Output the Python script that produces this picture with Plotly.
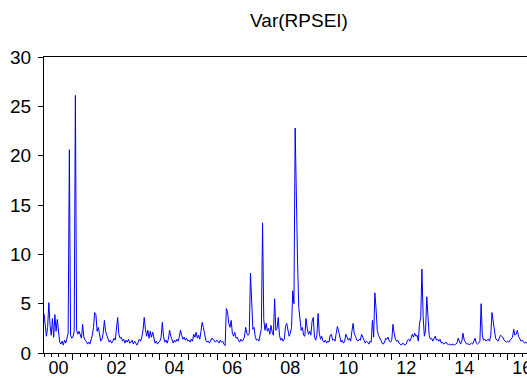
import plotly.graph_objects as go

# Semi-monthly readings of Var(RPSEI), 24 per year (2016 partial, cut at window edge)
v2000 = [4.0, 2.4, 1.7, 2.6, 5.1, 2.8, 1.8, 3.5, 1.6, 3.9, 2.2, 3.4, 1.8, 1.1, 0.9, 1.2, 0.8, 1.3, 1.0, 1.5, 2.0, 20.6, 1.8, 1.5]
v2001 = [1.6, 2.2, 26.1, 2.3, 1.9, 2.2, 1.7, 1.5, 2.9, 1.6, 1.3, 1.2, 0.9, 1.1, 0.9, 1.3, 1.8, 2.6, 4.1, 3.9, 2.2, 2.6, 1.7, 1.2]
v2002 = [1.4, 2.0, 3.3, 2.2, 1.8, 1.4, 1.1, 1.3, 1.0, 1.2, 1.5, 1.3, 2.5, 3.6, 1.9, 1.5, 1.6, 1.2, 1.4, 1.0, 1.3, 1.1, 1.4, 1.0]
v2003 = [1.1, 1.3, 0.9, 1.2, 1.0, 0.8, 1.1, 1.4, 1.2, 1.6, 2.3, 3.6, 2.4, 1.7, 2.3, 1.5, 2.2, 1.6, 2.1, 1.4, 1.0, 1.2, 0.9, 1.1]
v2004 = [1.2, 1.6, 3.1, 1.7, 1.1, 1.3, 1.0, 1.4, 2.3, 1.7, 1.2, 1.0, 1.3, 1.1, 1.4, 1.2, 1.6, 2.3, 1.8, 1.4, 1.6, 1.3, 1.5, 1.2]
v2005 = [1.3, 1.1, 1.4, 1.2, 1.9, 1.6, 2.1, 1.5, 1.8, 1.4, 2.2, 3.1, 2.6, 1.9, 1.3, 1.1, 1.2, 1.0, 1.3, 1.5, 1.4, 1.2, 1.1, 1.3]
v2006 = [1.2, 1.0, 1.3, 1.1, 1.2, 0.9, 0.75, 4.5, 4.2, 3.0, 2.6, 3.3, 2.0, 1.7, 2.1, 1.5, 1.6, 1.3, 1.1, 1.4, 1.2, 1.3, 1.6, 2.6]
v2007 = [2.0, 1.8, 2.0, 8.1, 4.6, 2.4, 2.6, 1.6, 1.3, 1.4, 1.2, 1.7, 2.5, 13.2, 3.4, 2.3, 3.0, 2.2, 2.5, 1.9, 2.8, 2.1, 1.8, 5.5]
v2008 = [2.3, 2.5, 3.6, 1.8, 1.3, 1.5, 1.2, 1.4, 2.7, 3.0, 2.2, 1.7, 2.0, 2.6, 6.3, 5.0, 22.8, 13.0, 9.2, 4.6, 3.0, 2.3, 2.6, 1.8]
v2009 = [1.7, 3.5, 2.5, 1.9, 2.2, 1.8, 3.2, 3.6, 1.6, 1.3, 1.8, 4.0, 2.0, 1.4, 1.7, 1.2, 1.1, 1.3, 1.0, 1.2, 1.1, 1.8, 1.9, 1.3]
v2010 = [1.4, 1.2, 2.0, 2.7, 2.2, 1.6, 1.1, 1.3, 1.0, 1.2, 1.9, 1.6, 1.3, 1.5, 1.2, 2.2, 3.0, 1.9, 1.7, 1.3, 1.2, 1.4, 1.3, 1.9]
v2011 = [1.6, 1.2, 1.0, 1.2, 1.1, 0.9, 1.2, 1.1, 3.3, 1.6, 6.1, 4.5, 2.3, 1.8, 1.6, 1.3, 1.0, 0.9, 1.1, 1.5, 1.4, 1.6, 1.2, 1.1]
v2012 = [1.3, 2.9, 2.0, 1.4, 1.2, 1.3, 1.0, 0.9, 0.8, 1.0, 0.9, 0.8, 0.9, 1.3, 1.4, 1.2, 1.5, 1.9, 1.6, 2.0, 1.7, 1.8, 1.2, 3.0]
v2013 = [3.6, 8.5, 3.7, 1.7, 2.3, 5.7, 3.7, 1.8, 1.4, 1.5, 1.2, 1.4, 1.7, 1.3, 1.4, 1.2, 1.4, 1.0, 1.1, 0.9, 1.0, 1.1, 0.9, 0.85]
v2014 = [0.9, 0.8, 0.9, 0.85, 0.8, 0.9, 1.0, 1.5, 1.1, 0.9, 1.2, 2.0, 1.3, 1.0, 0.9, 0.95, 0.85, 0.9, 1.0, 0.9, 1.2, 1.5, 1.0, 0.9]
v2015 = [1.0, 1.2, 5.0, 1.8, 1.3, 1.4, 1.2, 1.3, 1.4, 1.2, 1.8, 4.1, 3.3, 2.4, 1.5, 1.3, 1.2, 1.5, 1.8, 1.7, 1.6, 1.3, 1.2, 1.1]
v2016 = [1.2, 1.1, 1.3, 1.5, 1.6, 2.4, 1.8, 1.9, 2.3, 1.7, 1.4, 1.2, 1.3, 1.1, 1.0, 1.1, 1.0]

yearly = {
    2000: v2000, 2001: v2001, 2002: v2002, 2003: v2003, 2004: v2004,
    2005: v2005, 2006: v2006, 2007: v2007, 2008: v2008, 2009: v2009,
    2010: v2010, 2011: v2011, 2012: v2012, 2013: v2013, 2014: v2014,
    2015: v2015, 2016: v2016,
}

tick_labels = ["00", "02", "04", "06", "08", "10", "12", "14", "16"]
label_years = [2000, 2002, 2004, 2006, 2008, 2010, 2012, 2014, 2016]
y_ticks = [0, 5, 10, 15, 20, 25, 30]
title_text = "Var(RPSEI)"

xs, ys = [], []
for yr, vals in yearly.items():
    for k, v in enumerate(vals):
        xs.append(yr + k / 24.0)
        ys.append(v)

x_end = 2016 + 16 / 24.0

FONT = "Liberation Sans, Arial, sans-serif"
TICK_SIZE = 19
XLABEL_SIZE = 18
TITLE_SIZE = 19

fig = go.Figure()
fig.add_trace(go.Scatter(x=xs, y=ys, mode="lines",
                         line=dict(color="#0000FF", width=1),
                         hoverinfo="skip", showlegend=False))
# empty trace to carry the label axis
fig.add_trace(go.Scatter(x=[2000, x_end], y=[None, None], xaxis="x2", yaxis="y",
                         mode="lines", hoverinfo="skip", showlegend=False))

fig.update_layout(
    width=527, height=378,
    margin=dict(l=44, r=0, t=57, b=25, autoexpand=False),
    paper_bgcolor="white", plot_bgcolor="white",
    font=dict(family=FONT, size=TICK_SIZE, color="black"),
    title=dict(text=title_text, x=299 / 527, xref="container", xanchor="center",
               y=1 - 20 / 378, yref="container", yanchor="middle",
               font=dict(family=FONT, size=TITLE_SIZE, color="black")),
    xaxis=dict(range=[2000, x_end], showgrid=False, zeroline=False,
               showline=True, linecolor="black", linewidth=1, mirror=True,
               automargin=False,
               tickmode="array", tickvals=list(range(2001, 2017)),
               ticks="outside", ticklen=6, tickwidth=1, tickcolor="black",
               showticklabels=False,
               minor=dict(tick0=2000, dtick=0.25, ticks="outside", ticklen=3,
                          tickwidth=1, tickcolor="black", showgrid=False)),
    xaxis2=dict(range=[2000, x_end], overlaying="x", anchor="y", side="bottom",
                showgrid=False, zeroline=False, showline=False,
                automargin=False,
                tickmode="array", tickvals=[y + 0.5 for y in label_years],
                ticktext=tick_labels, ticks="", ticklabeloverflow="allow",
                ticklabelstandoff=2,
                tickfont=dict(family=FONT, size=XLABEL_SIZE, color="black")),
    yaxis=dict(range=[0, 30], showgrid=False, zeroline=False,
               showline=True, linecolor="black", linewidth=1, mirror=False,
               automargin=False,
               tickmode="array", tickvals=y_ticks,
               ticks="outside", ticklen=5, tickwidth=1, tickcolor="black",
               ticklabelstandoff=3,
               tickfont=dict(family=FONT, size=TICK_SIZE, color="black")),
)

fig.write_html("out.html", config={"displayModeBar": False})
